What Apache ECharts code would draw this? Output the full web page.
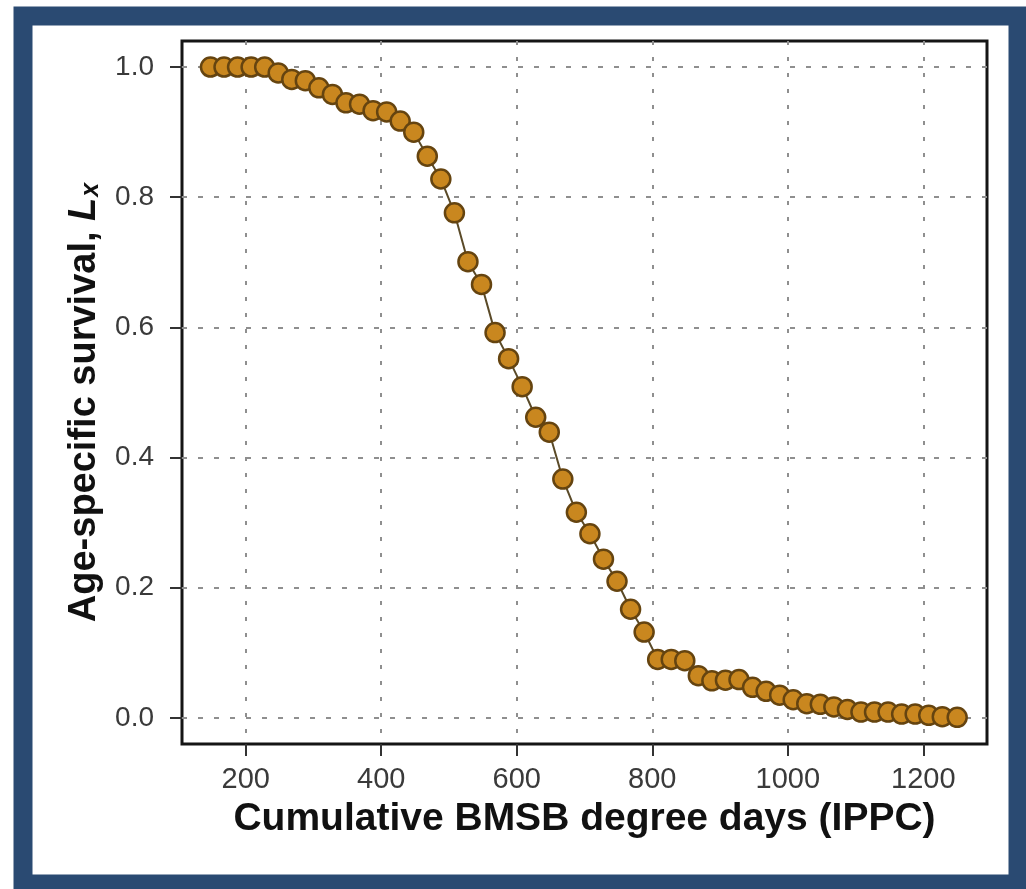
<!DOCTYPE html>
<html>
<head>
<meta charset="utf-8">
<script src="https://cdn.jsdelivr.net/npm/echarts@6/dist/echarts.min.js"></script>
<style>
  html, body { margin: 0; padding: 0; background: #f4f4f2; }
  #chart { width: 1026px; height: 889px; }
</style>
</head>
<body>
<div id="chart"></div>
<script>
// Cumulative BMSB degree days (IPPC)
var degreeDays = [148, 168, 188, 208, 228, 248, 268, 288, 308, 328,
                  348, 368, 388, 408, 428, 448, 468, 488, 508, 528,
                  548, 568, 588, 608, 628, 648, 668, 688, 708, 728,
                  748, 768, 788, 808, 828, 848, 868, 888, 908, 928,
                  948, 968, 988, 1008, 1028, 1048, 1068, 1088, 1108, 1128,
                  1148, 1168, 1188, 1208, 1228, 1250];
// Age-specific survival, Lx
var survival = [1.000, 1.000, 1.000, 1.000, 1.000, 0.991, 0.981, 0.979, 0.968, 0.958,
                0.945, 0.943, 0.933, 0.931, 0.917, 0.900, 0.863, 0.828, 0.776, 0.701,
                0.666, 0.592, 0.552, 0.509, 0.462, 0.439, 0.367, 0.316, 0.283, 0.244,
                0.210, 0.167, 0.132, 0.090, 0.090, 0.088, 0.065, 0.057, 0.058, 0.059,
                0.047, 0.041, 0.035, 0.028, 0.022, 0.021, 0.017, 0.013, 0.009, 0.009,
                0.009, 0.006, 0.006, 0.004, 0.002, 0.001];
var xTicks = [200, 400, 600, 800, 1000, 1200];
var yTicks = [0.0, 0.2, 0.4, 0.6, 0.8, 1.0];

var points = degreeDays.map(function (d, i) { return [d, survival[i]]; });

var FONT = 'Liberation Sans, Arial, Helvetica, sans-serif';
var chart = echarts.init(document.getElementById('chart'), null, { renderer: 'canvas' });
var gridLineH = { show: true, lineStyle: { color: '#8f8f8f', width: 2, type: [5, 11] } };
var gridLineV = { show: true, lineStyle: { color: '#8f8f8f', width: 2, type: [4, 12] } };

chart.setOption({
  backgroundColor: '#ffffff',
  animation: false,
  graphic: [
    { type: 'rect', z: 100, silent: true,
      shape: { x: 23, y: 16, width: 995, height: 868 },
      style: { fill: 'none', stroke: '#2a4a72', lineWidth: 19 } }
  ],
  grid: {
    left: 182, top: 41, right: 39, bottom: 145,
    show: true, borderColor: '#151515', borderWidth: 3, backgroundColor: '#ffffff'
  },
  xAxis: {
    type: 'value', min: 106, max: 1294,
    name: 'Cumulative BMSB degree days (IPPC)',
    nameLocation: 'middle', nameGap: 56,
    nameTextStyle: { fontFamily: FONT, fontWeight: 'bold', fontSize: 39, color: '#111' },
    axisLine: { show: false, onZero: false },
    axisTick: { show: true, inside: false, length: 12, customValues: xTicks, lineStyle: { color: '#333', width: 2 } },
    axisLabel: { customValues: xTicks, margin: 21, fontSize: 29, color: '#3a3a3a', fontFamily: FONT,
                 formatter: function (v) { return String(v); } },
    splitLine: gridLineV
  },
  yAxis: {
    type: 'value', min: -0.04, max: 1.04,
    name: 'Age-specific survival, {i|L}{s|x}',
    nameLocation: 'middle', nameGap: 78, nameRotate: 90,
    nameTextStyle: {
      fontFamily: FONT, fontWeight: 'bold', fontSize: 38, color: '#111',
      padding: [0, 20, 0, 0],
      rich: {
        i: { fontFamily: FONT, fontWeight: 'bold', fontStyle: 'italic', fontSize: 38, color: '#111' },
        s: { fontFamily: FONT, fontWeight: 'bold', fontStyle: 'italic', fontSize: 25, color: '#111', padding: [14, 0, 0, 1] }
      }
    },
    axisLine: { show: false, onZero: false },
    axisTick: { show: true, inside: false, length: 12, customValues: yTicks, lineStyle: { color: '#333', width: 2 } },
    axisLabel: { customValues: yTicks, margin: 28, fontSize: 28, color: '#3a3a3a', fontFamily: FONT,
                 formatter: function (v) { return v.toFixed(1); } },
    splitLine: gridLineH
  },
  series: [{
    type: 'line',
    data: points,
    symbol: 'circle',
    symbolSize: 19,
    lineStyle: { color: '#5a4a28', width: 2 },
    itemStyle: { color: '#c9871f', borderColor: '#654410', borderWidth: 2.5 },
    z: 5
  }]
});
</script>
</body>
</html>
